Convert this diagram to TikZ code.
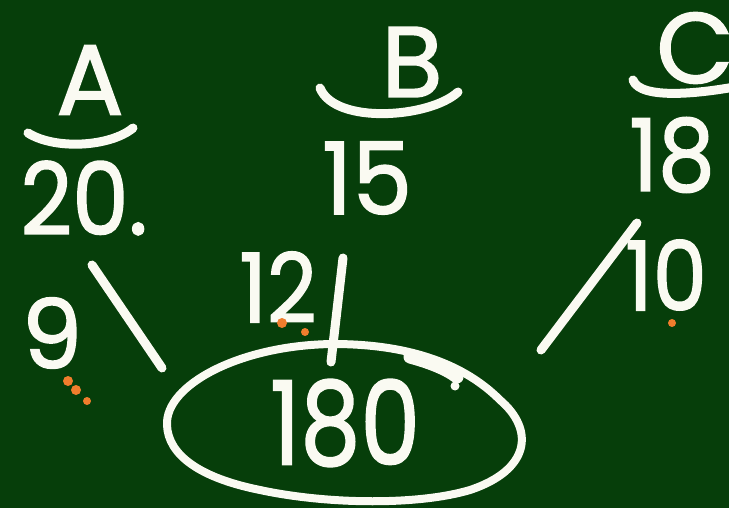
\documentclass[tikz,border=0pt]{standalone}
\usepackage{fontspec}
\newfontfamily\chalkfont{Poppins}[FakeBold=1.6]
\usetikzlibrary{shapes.geometric}
\definecolor{board}{RGB}{6,62,10}
\definecolor{chalk}{RGB}{250,250,242}
\definecolor{dot}{RGB}{240,125,45}
\tikzset{
  chalkline/.style={draw=chalk,line width=9pt,line cap=round},
  lbl/.style={text=chalk,inner sep=0pt,font=\chalkfont\fontsize{100}{100}\selectfont},
  small/.style={text=chalk,inner sep=0pt,font=\chalkfont\fontsize{96}{96}\selectfont},
  orange/.style={fill=dot}
}
\begin{document}
\begin{tikzpicture}[x=1pt,y=-1pt]
\fill[board] (0,0) rectangle (729,508);
\useasboundingbox (0,0) rectangle (729,508);
\clip (0,0) rectangle (729,508);
% headers
\node[lbl] (A) at (90,80) {A};
\node[lbl] (B) at (412,62) {B};
\node[lbl] (C) at (695,48) {C};
\draw[chalkline] (28,133) .. controls (55,150) and (110,147) .. (133,128);
\draw[chalkline] (320,88) .. controls (335,125) and (430,118) .. (458,92);
\draw[chalkline] (633,80) .. controls (640,100) and (700,94) .. (745,85);
% values
\node[lbl] (vA) at (84,198) {\scalebox{0.9}[1]{20.}};
\node[lbl] (vB) at (367,178) {\scalebox{0.95}[1]{15}};
\node[lbl] (vC) at (672,155) {\scalebox{0.9}[1]{18}};
% edge labels
\node[small] (eA) at (52,333) {9};
\node[small] (eB) at (278,287) {\scalebox{0.9}[1]{12}};
\node[small] (eC) at (666,275) {\scalebox{0.9}[1]{10}};
% centre
\node[text=chalk,inner sep=0pt,font=\chalkfont\fontsize{116}{116}\selectfont] (T) at (345,423) {\scalebox{0.82}[1]{180}};
\draw[chalkline,line width=8pt] (167,425)
  .. controls (165,385) and (240,345) .. (333,344)
  .. controls (420,344) and (470,370) .. (500,400)
  .. controls (535,430) and (530,470) .. (470,490)
  .. controls (420,505) and (330,505) .. (260,490)
  .. controls (200,478) and (168,455) .. (167,425) -- cycle;
% connectors
\coordinate (a1) at (92,265);
\coordinate (a2) at (162,368);
\coordinate (b1) at (343,258);
\coordinate (b2) at (331,362);
\coordinate (c1) at (637,223);
\coordinate (c2) at (541,350);
\draw[chalkline] (a1) -- (a2);
\draw[chalkline] (b1) -- (b2);
\draw[chalkline] (c1) -- (c2);
% smudge on ellipse
\draw[chalk,line width=13pt,line cap=round] (410,357) .. controls (428,362) and (445,368) .. (457,377);
\fill[chalk] (455,386) circle (4.5pt);
% orange dots
\fill[orange] (68,381) circle (5pt);
\fill[orange] (76,390) circle (5pt);
\fill[orange] (87,401) circle (4pt);
\fill[orange] (282,323) circle (5pt);
\fill[orange] (305,332) circle (4pt);
\fill[orange] (672,323) circle (4pt);
\end{tikzpicture}
\end{document}
